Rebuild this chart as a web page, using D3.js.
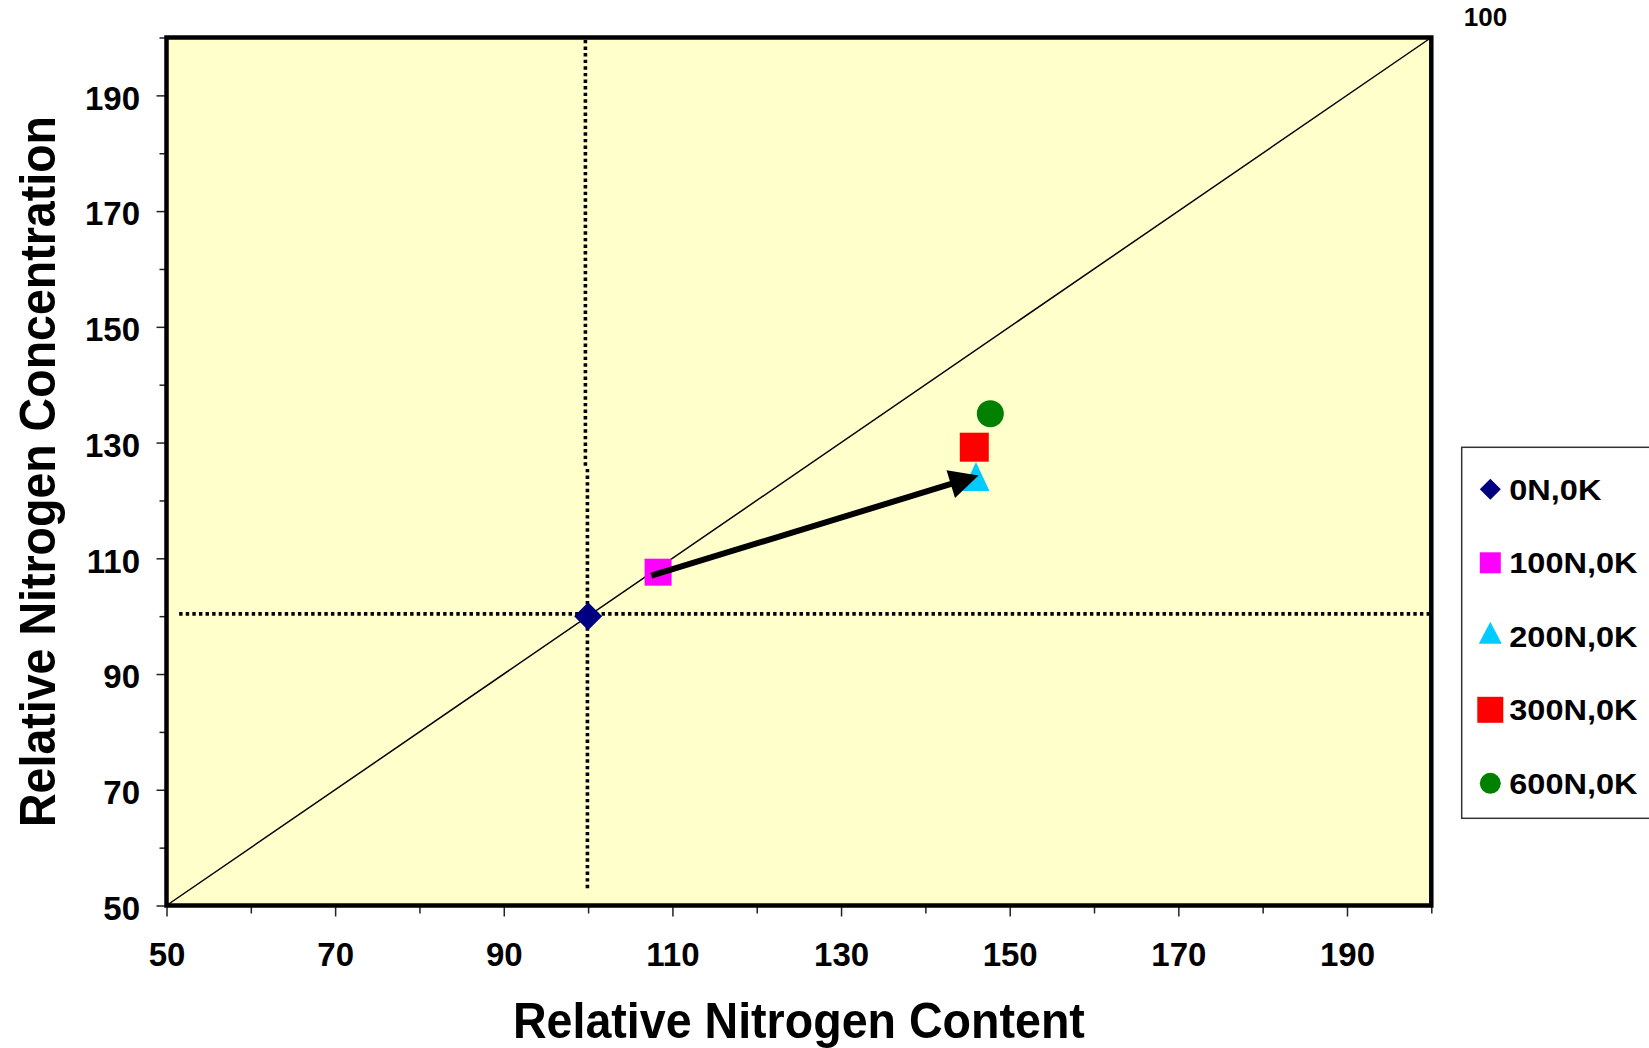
<!DOCTYPE html>
<html>
<head>
<meta charset="utf-8">
<script src="https://cdn.jsdelivr.net/npm/d3@7"></script>
<style>
  body { margin: 0; background: #ffffff; }
  svg { display: block; }
  text { font-family: "Liberation Sans", Arial, sans-serif; font-weight: bold; fill: #000; }
</style>
</head>
<body>
<svg id="chart" width="1649" height="1048"></svg>
<script>
// Treatments and their relative nitrogen values (control 0N,0K = 100)
const series = ["0N,0K", "100N,0K", "200N,0K", "300N,0K", "600N,0K"];
const contentValues = [100, 108.3, 146.0, 145.8, 147.7];
const concentrationValues = [100, 107.6, 123.3, 129.2, 135.0];
const seriesColors = ["#000080", "#FF00FF", "#00CCFF", "#FF0000", "#008000"];
const seriesShapes = ["diamond", "square", "triangle", "square", "circle"];

// Axis ticks (same on both axes)
const majorTicks = [50, 70, 90, 110, 130, 150, 170, 190];
const minorTicks = [60, 80, 100, 120, 140, 160, 180, 200];
const axisDomain = [50, 200];

// Reference lines: 1:1 line and the control level on each axis
const oneToOne = [[50, 50], [200, 200]];
const controlVerticalUpper = [[99.68, 126], [99.68, 200]];
const controlVerticalLower = [[99.92, 53], [99.92, 126]];
const controlHorizontal = [[51.5, 100.4], [200, 100.4]];

// Arrow showing the shift from 100N to 200N
const arrowFrom = [107.5, 107.0];
const arrowTo = [146.3, 124.3];

const cornerNote = "100";
const xTitle = "Relative Nitrogen Content";
const yTitle = "Relative Nitrogen Concentration";

const svg = d3.select("#chart");
const plot = { left: 166.5, right: 1431.3, top: 37.5, bottom: 905.5 };

const x = d3.scaleLinear().domain(axisDomain).range([plot.left, plot.right]);
const y = d3.scaleLinear().domain(axisDomain).range([plot.bottom, plot.top]);

// Marker path of a given nominal width (and optional height for triangles)
function markerPath(shape, w, h) {
  h = h || w;
  if (shape === "diamond") {
    const r = w / 2;
    return `M0,${-r}L${r},0L0,${r}L${-r},0Z`;
  }
  if (shape === "square") {
    const r = w / 2;
    return `M${-r},${-r}H${r}V${r}H${-r}Z`;
  }
  if (shape === "triangle") {
    // centroid at the origin
    return `M0,${-2 * h / 3}L${w / 2},${h / 3}L${-w / 2},${h / 3}Z`;
  }
  // circle
  const r = w / 2;
  return `M${r},0A${r},${r} 0 1,1 ${-r},0A${r},${r} 0 1,1 ${r},0Z`;
}

// Plot background
svg.append("rect")
  .attr("x", plot.left).attr("y", plot.top)
  .attr("width", plot.right - plot.left).attr("height", plot.bottom - plot.top)
  .attr("fill", "#FFFFCC");

// Axes: major ticks carry labels, minor ticks are shorter
const xMajor = d3.axisBottom(x).tickValues(majorTicks).tickSize(11).tickFormat(d3.format("d"));
const xMinor = d3.axisBottom(x).tickValues(minorTicks).tickSize(8).tickFormat("");
const yMajor = d3.axisLeft(y).tickValues(majorTicks).tickSize(10).tickFormat(d3.format("d"));
const yMinor = d3.axisLeft(y).tickValues(minorTicks).tickSize(7).tickFormat("");

function styleAxis(g) {
  g.select(".domain").remove();
  g.selectAll(".tick line").attr("stroke", "#222").attr("stroke-width", 1.5);
  g.selectAll(".tick text").attr("font-size", 33);
}

svg.append("g").attr("transform", `translate(0,${plot.bottom})`).call(xMinor).call(styleAxis);
svg.append("g").attr("transform", `translate(0,${plot.bottom})`).call(xMajor).call(styleAxis)
  .selectAll(".tick text").attr("y", 60.5).attr("dy", 0);
svg.append("g").attr("transform", `translate(${plot.left},0)`).call(yMinor).call(styleAxis);
svg.append("g").attr("transform", `translate(${plot.left},0)`).call(yMajor).call(styleAxis)
  .selectAll(".tick text").attr("x", -26.5).attr("dy", "0.42em");

// Reference lines
const line = d3.line().x(d => x(d[0])).y(d => y(d[1]));
svg.append("path").attr("d", line(oneToOne))
  .attr("fill", "none").attr("stroke", "#000").attr("stroke-width", 1.5);
[controlVerticalUpper, controlVerticalLower, controlHorizontal].forEach(seg => {
  svg.append("path").attr("d", line(seg))
    .attr("fill", "none").attr("stroke", "#000")
    .attr("stroke-width", 3.6).attr("stroke-dasharray", "3.4,3.2");
});

// Plot frame
svg.append("rect")
  .attr("x", plot.left).attr("y", plot.top)
  .attr("width", plot.right - plot.left).attr("height", plot.bottom - plot.top)
  .attr("fill", "none").attr("stroke", "#000").attr("stroke-width", 4.5);

// Data markers
const plotSizes = [[28], [27], [27, 29], [29], [27]];
const points = series.map((name, i) => ({
  name, cx: contentValues[i], cy: concentrationValues[i],
  color: seriesColors[i], shape: seriesShapes[i], size: plotSizes[i]
}));
svg.append("g").selectAll("path").data(points).join("path")
  .attr("transform", d => `translate(${x(d.cx)},${y(d.cy)})`)
  .attr("d", d => markerPath(d.shape, d.size[0], d.size[1]))
  .attr("fill", d => d.color);

// Arrow (shaft + triangular head), computed from the data endpoints
{
  const x0 = x(arrowFrom[0]), y0 = y(arrowFrom[1]);
  const x1 = x(arrowTo[0]), y1 = y(arrowTo[1]);
  const len = Math.hypot(x1 - x0, y1 - y0);
  const ux = (x1 - x0) / len, uy = (y1 - y0) / len;
  const headLen = 29, headHalf = 14.5;
  const bx = x1 - ux * headLen, by = y1 - uy * headLen;
  svg.append("line")
    .attr("x1", x0).attr("y1", y0)
    .attr("x2", bx + ux * 2).attr("y2", by + uy * 2)
    .attr("stroke", "#000").attr("stroke-width", 6);
  svg.append("path")
    .attr("d", `M${x1},${y1}L${bx - uy * headHalf},${by + ux * headHalf}L${bx + uy * headHalf},${by - ux * headHalf}Z`)
    .attr("fill", "#000");
}

// Axis titles
svg.append("text")
  .attr("x", (plot.left + plot.right) / 2).attr("y", 1038)
  .attr("text-anchor", "middle").attr("font-size", 50)
  .attr("textLength", 572).attr("lengthAdjust", "spacingAndGlyphs")
  .text(xTitle);
svg.append("text")
  .attr("transform", `translate(55,${(plot.top + plot.bottom) / 2}) rotate(-90)`)
  .attr("text-anchor", "middle").attr("font-size", 50)
  .attr("textLength", 711).attr("lengthAdjust", "spacingAndGlyphs")
  .text(yTitle);

// Small note at the top right
svg.append("text")
  .attr("x", 1485.5).attr("y", 26)
  .attr("text-anchor", "middle").attr("font-size", 26)
  .text(cornerNote);

// Legend
const legend = svg.append("g");
legend.append("rect")
  .attr("x", 1461.7).attr("y", 447.3).attr("width", 260).attr("height", 371)
  .attr("fill", "#fff").attr("stroke", "#333").attr("stroke-width", 1.5);
const legendSizes = [[21], [21], [23, 22], [26], [21]];
const rowY = d3.scalePoint().domain(series).range([489.3, 783.3]);
const rows = legend.selectAll("g.row").data(points).join("g")
  .attr("class", "row")
  .attr("transform", d => `translate(1490.3,${rowY(d.name)})`);
rows.append("path")
  .attr("d", (d, i) => markerPath(d.shape, legendSizes[i][0], legendSizes[i][1]))
  .attr("fill", d => d.color);
rows.append("text")
  .attr("x", 19).attr("y", 10.5)
  .attr("font-size", 29)
  .text(d => d.name)
  .each(function () {
    const w = this.getComputedTextLength();
    d3.select(this).attr("textLength", w * 1.12).attr("lengthAdjust", "spacingAndGlyphs");
  });
</script>
</body>
</html>
